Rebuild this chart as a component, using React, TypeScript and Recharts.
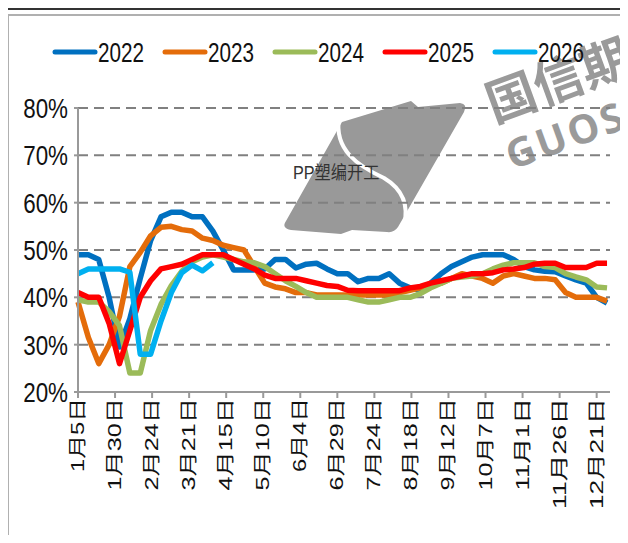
import { CartesianGrid, Line, LineChart, XAxis, YAxis } from 'recharts';

// weekly observation days (day of year), shared by every season
const DAYS = [
  5, 12, 19, 26, 33, 40, 47, 54, 61, 68, 75, 82, 89, 96, 103, 110, 117, 124, 131, 138,
  145, 152, 159, 166, 173, 180, 187, 194, 201, 208, 215, 222, 229, 236, 243, 250, 257, 264, 271, 278,
  285, 292, 299, 306, 313, 320, 327, 334, 341, 348, 355, 362,
];

const TICK_DAYS = [5, 30, 55, 80, 105, 130, 155, 180, 205, 230, 255, 280, 305, 330, 355];
const TICK_LABELS = [
  '1月5日', '1月30日', '2月24日', '3月21日', '4月15日', '5月10日', '6月4日', '6月29日',
  '7月24日', '8月18日', '9月12日', '10月7日', '11月1日', '11月26日', '12月21日',
];
const Y_TICKS = [20, 30, 40, 50, 60, 70, 80];

const Y2022 = [
  49, 49, 48, 40, 29.5, 35.5, 44, 52, 57, 58,
  58, 57, 57, 54, 50, 45.8, 45.8, 45.8, 46, 48,
  48, 46.2, 47, 47.2, 46, 45, 45, 43.3, 44, 44,
  45, 43, 42, 41.5, 43, 45, 46.5, 47.5, 48.5, 49,
  49, 49, 48, 46.5, 45.8, 45.5, 45.4, 44.5, 43.7, 43,
  40, 38.8,
];
const Y2023 = [
  39, 31.5, 26, 30, 36, 46.5, 49.5, 53, 54.8, 55,
  54.3, 54, 52.5, 52, 51, 50.5, 50, 46.5, 43, 42.2,
  41.8, 41, 41, 40.5, 40.5, 40.5, 40.5, 40.5, 40.5, 40.5,
  40.5, 41, 41.5, 42, 42.5, 43, 44, 45, 44.5, 44,
  43, 44.5, 45, 44.5, 44, 44, 43.7, 41, 40, 40,
  40, 39.2,
];
const Y2024 = [
  39.5, 39, 39, 37, 34, 24, 24, 33, 38.5, 42.5,
  45.5, 47.5, 48.5, 49, 48.5, 48, 47.5, 47.3, 46.5, 45,
  43.5, 42.3, 41, 40, 40, 40, 40, 39.5, 39, 39,
  39.5, 40, 40, 40.8, 42, 43, 44, 44.3, 44.5, 45,
  46, 46.8, 47.3, 47.3, 47.3, 46.5, 46.3, 45, 44.3, 43.7,
  42.2, 42,
];
const Y2025 = [
  41, 40, 40, 34.5, 26, 33, 40, 43.5, 46, 46.5,
  47, 48, 49, 49, 49, 48, 47, 46, 44.7, 44,
  44, 44, 43.5, 43, 42.5, 42.3, 41.5, 41.4, 41.4, 41.4,
  41.4, 41.4, 42, 42.3, 43, 43.5, 44, 44.5, 45, 45,
  45.2, 45.8, 46, 46.3, 47, 47.2, 47.2, 46.3, 46.3, 46.3,
  47.2, 47.2,
];
// current season, only the first weeks so far
const Y2026 = [45, 46, 46, 46, 46, 45.3, 28, 28, 35, 41, 45.2, 46.8, 45.6, 47.3];

const SERIES = [
  { key: 'y2022', name: '2022', color: '#0070C0', values: Y2022 },
  { key: 'y2023', name: '2023', color: '#E46C0A', values: Y2023 },
  { key: 'y2024', name: '2024', color: '#9BBB59', values: Y2024 },
  { key: 'y2025', name: '2025', color: '#FF0000', values: Y2025 },
  { key: 'y2026', name: '2026', color: '#00B0F0', values: Y2026 },
];

const rows = DAYS.map((day, i) => {
  const row: Record<string, number | null> = { day };
  SERIES.forEach((s) => {
    row[s.key] = i < s.values.length ? s.values[i] : null;
  });
  return row;
});

const LATIN = '"Liberation Sans", Arial, sans-serif';
const CJK = '"Liberation Sans", "Noto Sans CJK SC", sans-serif';

const XTick = ({ x, y, payload }: any) => {
  const idx = TICK_DAYS.indexOf(payload.value);
  const label = idx >= 0 ? TICK_LABELS[idx] : '';
  return (
    <text
      transform={`translate(${x},${y}) rotate(-90)`}
      textAnchor="end"
      dominantBaseline="central"
      fontSize={18}
      fontFamily={CJK}
      textLength={label.length * 18.5}
      lengthAdjust="spacingAndGlyphs"
      fill="#111"
    >
      {label}
    </text>
  );
};

const YTick = ({ x, y, payload }: any) => (
  <g transform={`translate(${x - 4},${y}) scale(0.8,1)`}>
    <text x={0} y={0} dy="0.36em" textAnchor="end" fontSize={28} fontFamily={LATIN} fill="#111">
      {`${payload.value}%`}
    </text>
  </g>
);

const Watermark = () => (
  <svg width={628} height={543} style={{ position: 'absolute', left: 0, top: 0 }}>
    <path
      d="M 342 122 L 411 101 L 418 107 L 460 103 Q 468 104 464 112 L 398 227 Q 394 233 387 232 L 352 230 L 341 234 L 291 230 Q 281 228 286 221 Z"
      fill="#999"
    />
    <path
      d="M 339 118 C 334 150, 358 166, 384 178 C 404 190, 409 206, 404 226"
      fill="none"
      stroke="#fff"
      strokeWidth={4}
    />
    <text
      x={494}
      y={123}
      transform="rotate(-20 494 123)"
      fontSize={50}
      fontWeight={700}
      fontFamily='"Noto Sans CJK SC", sans-serif'
      fill="#9a9a9a"
    >
      国信期
    </text>
    <text
      x={512}
      y={170}
      transform="rotate(-20 512 170)"
      fontSize={40}
      fontWeight={700}
      letterSpacing={3}
      fontFamily='"Open Sans", "DejaVu Sans", sans-serif'
      fill="#9a9a9a"
    >
      GUOSE
    </text>
  </svg>
);

const Overlay = () => (
  <svg width={628} height={543} style={{ position: 'absolute', left: 0, top: 0, pointerEvents: 'none' }}>
    {SERIES.map((s, i) => {
      const x0 = 55 + i * 110;
      return (
        <g key={s.key}>
          <line x1={x0} y1={52} x2={x0 + 40} y2={52} stroke={s.color} strokeWidth={5} strokeLinecap="round" />
          <g transform={`translate(${x0 + 43},62) scale(0.74,1)`}>
            <text x={0} y={0} fontSize={28} fontFamily={LATIN} fill="#111">
              {s.name}
            </text>
          </g>
        </g>
      );
    })}
    <g transform="translate(293,179) scale(0.9,1)">
      <text x={0} y={0} fontSize={18} fontFamily={CJK} fill="#333">
        PP塑编开工
      </text>
    </g>
  </svg>
);

export default function App() {
  return (
    <div
      style={{
        position: 'relative',
        width: 628,
        height: 543,
        margin: -8,
        overflow: 'hidden',
        background: '#fff',
      }}
    >
      <div style={{ position: 'absolute', left: 0, top: 8, width: 628, height: 2, background: '#333' }} />
      <div
        style={{
          position: 'absolute',
          left: 7,
          top: 14,
          width: 660,
          height: 600,
          borderTop: '2px solid #b0b0b0',
          borderLeft: '2px solid #b0b0b0',
        }}
      />
      <Watermark />
      <div style={{ position: 'absolute', left: 0, top: 0 }}>
        <LineChart width={628} height={543} data={rows} margin={{ top: 108, right: 18, bottom: 0, left: 0 }}>
          <CartesianGrid horizontal vertical={false} stroke="#808080" strokeWidth={2} strokeDasharray="10 6" />
          <XAxis
            dataKey="day"
            type="number"
            domain={[5, 364]}
            ticks={TICK_DAYS}
            interval={0}
            height={151}
            tickSize={6}
            tickMargin={0}
            stroke="#999"
            strokeWidth={2}
            tick={<XTick />}
          />
          <YAxis
            domain={[20, 80]}
            ticks={Y_TICKS}
            interval={0}
            width={78}
            tickSize={4}
            tickMargin={2}
            stroke="#999"
            strokeWidth={2}
            tick={<YTick />}
          />
          {SERIES.map((s) => (
            <Line
              key={s.key}
              type="linear"
              dataKey={s.key}
              name={s.name}
              stroke={s.color}
              strokeWidth={5.5}
              strokeLinejoin="round"
              dot={false}
              activeDot={false}
              connectNulls={false}
              isAnimationActive={false}
            />
          ))}
        </LineChart>
      </div>
      <Overlay />
    </div>
  );
}
